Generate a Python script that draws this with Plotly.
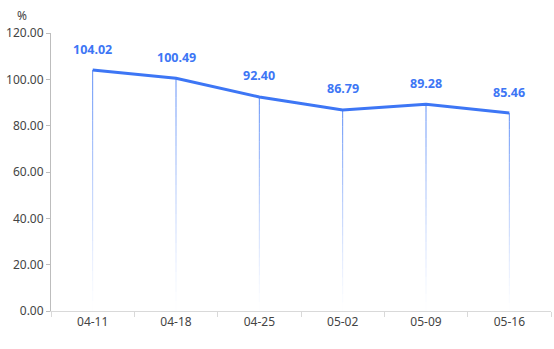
import plotly.graph_objects as go

weeks = ["04-11", "04-18", "04-25", "05-02", "05-09", "05-16"]
ratio = [104.02, 100.49, 92.40, 86.79, 89.28, 85.46]
y_ticks = [0, 20, 40, 60, 80, 100, 120]

LINE = "#3d76f5"
FONT = "Noto Sans, sans-serif"

fig = go.Figure()

# Drop lines from each point to the baseline, fading out towards zero
steps = 24
for k in range(steps):
    f0 = 1 - k / steps
    f1 = 1 - (k + 1) / steps
    alpha = 0.85 * (1 - (k + 0.5) / steps) ** 1.2
    xs, ys = [], []
    for w, v in zip(weeks, ratio):
        xs += [w, w, None]
        ys += [v * f0, v * f1, None]
    fig.add_trace(go.Scatter(
        x=xs, y=ys, mode="lines",
        line=dict(color=f"rgba(61,118,245,{alpha:.3f})", width=1),
        hoverinfo="skip", showlegend=False,
    ))

fig.add_trace(go.Scatter(
    x=weeks, y=ratio, mode="lines",
    line=dict(color=LINE, width=3),
    showlegend=False,
))

# Value labels above each point
labels = [dict(
    x=w, y=v, xref="x", yref="y", text=f"<b>{v:.2f}</b>",
    showarrow=False, yshift=21, xanchor="center", yanchor="middle",
    font=dict(family=FONT, size=12.5, color=LINE),
) for w, v in zip(weeks, ratio)]

fig.update_layout(
    width=554, height=349,
    margin=dict(l=51, r=3, t=33, b=38),
    paper_bgcolor="white", plot_bgcolor="white",
    font=dict(family=FONT, size=12, color="#444"),
    hovermode=False,
    annotations=labels + [dict(
        text="%", xref="x domain", yref="y domain",
        x=-29 / 500, y=1 + 17 / 278,
        xanchor="center", yanchor="middle", showarrow=False,
        font=dict(family=FONT, size=12, color="#444"),
    )],
)

fig.update_xaxes(
    type="category", tickson="boundaries",
    showline=True, linecolor="#d9d9d9", linewidth=1,
    ticks="outside", ticklen=5, tickcolor="#d9d9d9",
    showgrid=False, zeroline=False,
    tickfont=dict(family=FONT, size=12, color="#444"),
    range=[-0.5, len(weeks) - 0.5],
)
fig.update_yaxes(
    range=[0, 120], tickvals=y_ticks,
    ticktext=[f"{t:.2f}" for t in y_ticks],
    showline=True, linecolor="#bdbdbd", linewidth=1,
    ticks="outside", ticklen=4, tickcolor="#bdbdbd",
    showgrid=False, zeroline=False,
    tickfont=dict(family=FONT, size=12, color="#444"),
)

fig.write_html("out.html")
